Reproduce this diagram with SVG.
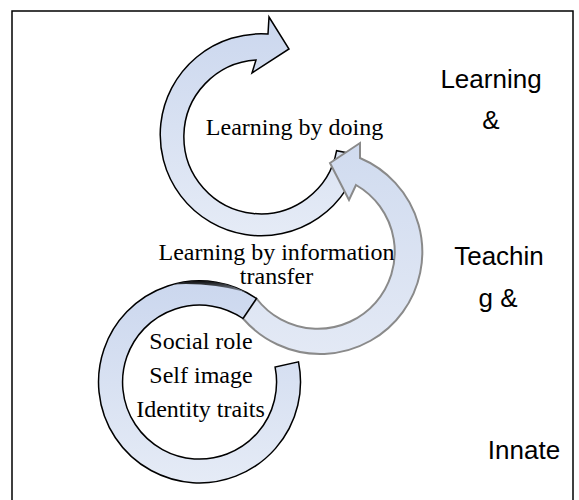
<svg xmlns="http://www.w3.org/2000/svg" width="579" height="500" viewBox="0 0 579 500">
  <defs>
    <linearGradient id="blueFill" x1="0" y1="0" x2="0" y2="1">
      <stop offset="0" stop-color="#cbd7ee"/>
      <stop offset="1" stop-color="#e5ebf6"/>
    </linearGradient>
    <linearGradient id="greyFill" x1="0" y1="0" x2="0" y2="1">
      <stop offset="0" stop-color="#d0dbef"/>
      <stop offset="1" stop-color="#e3e9f5"/>
    </linearGradient>
    <linearGradient id="shade" x1="0" y1="0" x2="0" y2="1">
      <stop offset="0" stop-color="#0d0d0d"/>
      <stop offset="1" stop-color="#8a93a3"/>
    </linearGradient>
    <style>
      .frame { fill: #ffffff; stroke: #000000; stroke-width: 1.5; }
      .dark { fill: url(#blueFill); stroke: #000000; stroke-width: 1.5; stroke-linejoin: miter; }
      .grey { fill: url(#greyFill); stroke: #8a8a8a; stroke-width: 2; stroke-linejoin: miter; }
      .serif { font-family: "Liberation Serif", "Times New Roman", serif; font-size: 24px; fill: #000000; text-anchor: middle; }
      .sans { font-family: "Liberation Sans", Arial, sans-serif; font-size: 26px; fill: #000000; text-anchor: middle; }
    </style>
  </defs>

  <rect class="frame" x="12" y="11" width="561" height="500"/>

  <g id="connectors">
    <g id="arrow-doing">
      <path class="dark" d="M 360.1,155.3 A 101,101 0 1 1 268,34 L 269,17 L 289,49 L 252,73 L 256,60 A 77,77 0 1 0 336.6,150.7 Z"/>
    </g>
    <g id="arrow-transfer">
      <path class="grey" d="M 360,158 A 102,102 0 1 1 243,318.5 L 256.5,298.5 A 77,77 0 1 0 356,185 L 349,200 L 330,163 L 360,143 Z"/>
    </g>
    <g id="ring-identity">
      <path class="dark" d="M 256.5,298.5 A 101,101 0 1 0 298.5,361.8 L 275.1,367.1 A 77,77 0 1 1 243,318.5 Z"/>
      <path d="M 173.4,284.4 A 101,101 0 0 1 245.4,292 A 230,230 0 0 0 173.4,284.4 Z" fill="url(#shade)"/>
    </g>
  </g>

  <g id="node-doing">
    <text class="serif" x="294.5" y="135">Learning by doing</text>
  </g>
  <g id="node-transfer">
    <text class="serif" x="276.5" y="260">Learning by information</text>
    <text class="serif" x="276.5" y="283.5">transfer</text>
  </g>
  <g id="node-identity">
    <text class="serif" x="201" y="349">Social role</text>
    <text class="serif" x="201" y="383">Self image</text>
    <text class="serif" x="200.5" y="417">Identity traits</text>
  </g>
  <g id="node-learning">
    <text class="sans" x="491" y="88">Learning</text>
    <text class="sans" x="491" y="129">&amp;</text>
  </g>
  <g id="node-teaching">
    <text class="sans" x="499" y="265">Teachin</text>
    <text class="sans" x="498" y="307">g &amp;</text>
  </g>
  <g id="node-innate">
    <text class="sans" x="524" y="459">Innate</text>
  </g>
</svg>
